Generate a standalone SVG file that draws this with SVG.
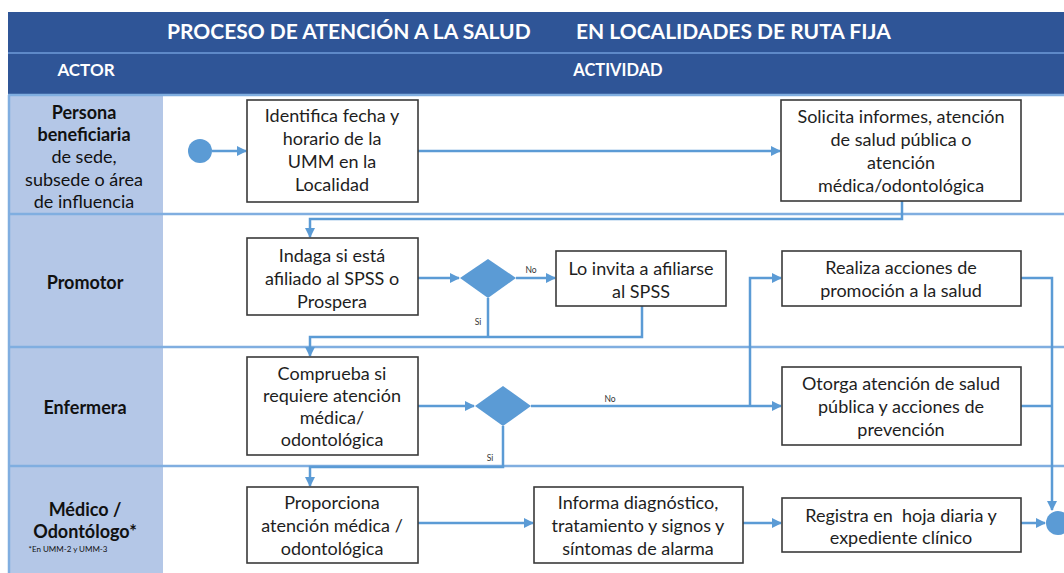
<svg xmlns="http://www.w3.org/2000/svg" width="1064" height="573" viewBox="0 0 1064 573">
<style>
.t{font-family:Lato,"Liberation Sans",sans-serif;font-size:18px;fill:#1e1e1e;text-anchor:middle}
.a{font-family:Lato,"Liberation Sans",sans-serif;font-size:18px;fill:#111;text-anchor:middle}
.s{font-family:Lato,"Liberation Sans",sans-serif;font-size:8px;fill:#111;text-anchor:middle}
.b{font-weight:bold}
.h{font-family:Lato,"Liberation Sans",sans-serif;font-weight:bold;fill:#fff}
.box{fill:#fff;stroke:#3a3a3a;stroke-width:1.6}
.c{fill:none;stroke:#5b9bd5;stroke-width:2.5}
.row{stroke:#80aee0;stroke-width:2.5}
.lbl{font-family:Lato,"Liberation Sans",sans-serif;font-size:8.5px;fill:#333;text-anchor:middle}
</style>
<defs>
<marker id="ar" viewBox="0 0 10 10" refX="9" refY="5" markerWidth="4" markerHeight="4" orient="auto" markerUnits="strokeWidth">
<path d="M0,0 L10,5 L0,10 z" fill="#5b9bd5"/>
</marker>
</defs>
<rect width="1064" height="573" fill="#fff"/>
<g id="header">
<rect x="8" y="12" width="1056" height="83" fill="#2f5597"/>
<line x1="8" y1="53" x2="1064" y2="53" stroke="#6f9bd8" stroke-width="1.5"/>
<text class="h" x="167" y="39" font-size="21">PROCESO DE ATENCIÓN A LA SALUD</text>
<text class="h" x="576" y="39" font-size="21">EN LOCALIDADES DE RUTA FIJA</text>
<text class="h" x="86" y="76" font-size="17" text-anchor="middle">ACTOR</text>
<text class="h" x="618" y="76" font-size="16.5" text-anchor="middle">ACTIVIDAD</text>
</g>
<g id="lanes">
<rect x="8" y="95" width="155" height="478" fill="#b4c7e7"/>
<line class="row" x1="9" y1="95" x2="9" y2="573"/>
<line class="row" x1="8" y1="95" x2="1064" y2="95"/>
<line class="row" x1="8" y1="214" x2="1064" y2="214"/>
<line class="row" x1="8" y1="347" x2="1064" y2="347"/>
<line class="row" x1="8" y1="466" x2="1064" y2="466"/>
</g>
<g id="actors">
<text class="a b" x="84" y="119">Persona</text>
<text class="a b" x="84" y="141">beneficiaria</text>
<text class="a" x="84" y="163">de sede,</text>
<text class="a" x="84" y="186">subsede o área</text>
<text class="a" x="84" y="208">de influencia</text>
<text class="a b" x="85" y="289">Promotor</text>
<text class="a b" x="85" y="414">Enfermera</text>
<text class="a b" x="85" y="516">Médico /</text>
<text class="a b" x="85" y="538">Odontólogo*</text>
<text class="s" x="68" y="552">*En UMM-2 y UMM-3</text>
</g>
<g id="connectors">
<line class="c" x1="212" y1="151" x2="246" y2="151" marker-end="url(#ar)"/>
<line class="c" x1="418" y1="151" x2="780" y2="151" marker-end="url(#ar)"/>
<polyline class="c" points="902,201 902,219 310,219 310,237" marker-end="url(#ar)"/>
<line class="c" x1="418" y1="278" x2="459" y2="278" marker-end="url(#ar)"/>
<line class="c" x1="516" y1="278" x2="555" y2="278" marker-end="url(#ar)"/>
<polyline class="c" points="642,306 642,337 310,337 310,356" marker-end="url(#ar)"/>
<line class="c" x1="488" y1="298" x2="488" y2="337"/>
<line class="c" x1="418" y1="406" x2="474" y2="406" marker-end="url(#ar)"/>
<line class="c" x1="531" y1="406" x2="781" y2="406" marker-end="url(#ar)"/>
<polyline class="c" points="750,406 750,278 781,278" marker-end="url(#ar)"/>
<polyline class="c" points="503,426 503,467 310,467 310,486" marker-end="url(#ar)"/>
<polyline class="c" points="1021,278 1052,278 1052,510" marker-end="url(#ar)"/>
<line class="c" x1="1021" y1="406" x2="1052" y2="406"/>
<line class="c" x1="418" y1="523" x2="533" y2="523" marker-end="url(#ar)"/>
<line class="c" x1="743" y1="523" x2="781" y2="523" marker-end="url(#ar)"/>
<line class="c" x1="1021" y1="523" x2="1045" y2="523" marker-end="url(#ar)"/>
<text class="lbl" x="531" y="273">No</text>
<text class="lbl" x="478" y="325">Si</text>
<text class="lbl" x="610" y="402">No</text>
<text class="lbl" x="490" y="461">Si</text>
</g>
<g id="start"><circle cx="200" cy="151" r="12" fill="#5b9bd5"/></g>
<g id="n1">
<rect class="box" x="247" y="100" width="171" height="102"/>
<text class="t" x="332" y="122">Identifica fecha y</text>
<text class="t" x="332" y="145">horario de la</text>
<text class="t" x="332" y="168">UMM en la</text>
<text class="t" x="332" y="191">Localidad</text>
</g>
<g id="n2">
<rect class="box" x="781" y="100" width="240" height="101"/>
<text class="t" x="901" y="123">Solicita informes, atención</text>
<text class="t" x="901" y="146">de salud pública o</text>
<text class="t" x="901" y="169">atención</text>
<text class="t" x="901" y="192">médica/odontológica</text>
</g>
<g id="n3">
<rect class="box" x="247" y="238" width="171" height="77"/>
<text class="t" x="332" y="262">Indaga si está</text>
<text class="t" x="332" y="285">afiliado al SPSS o</text>
<text class="t" x="332" y="308">Prospera</text>
</g>
<g id="d1"><polygon points="488,259 516,278 488,298 460,278" fill="#5b9bd5"/></g>
<g id="n4">
<rect class="box" x="556" y="251" width="170" height="55"/>
<text class="t" x="641" y="275">Lo invita a afiliarse</text>
<text class="t" x="641" y="298">al SPSS</text>
</g>
<g id="n5">
<rect class="box" x="782" y="251" width="239" height="55"/>
<text class="t" x="901" y="274">Realiza acciones de</text>
<text class="t" x="901" y="297">promoción a la salud</text>
</g>
<g id="n6">
<rect class="box" x="247" y="357" width="171" height="98"/>
<text class="t" x="332" y="380">Comprueba si</text>
<text class="t" x="332" y="402">requiere atención</text>
<text class="t" x="332" y="424">médica/</text>
<text class="t" x="332" y="446">odontológica</text>
</g>
<g id="d2"><polygon points="503,386 531,406 503,426 475,406" fill="#5b9bd5"/></g>
<g id="n7">
<rect class="box" x="782" y="367" width="239" height="78"/>
<text class="t" x="901" y="390">Otorga atención de salud</text>
<text class="t" x="901" y="413">pública y acciones de</text>
<text class="t" x="901" y="436">prevención</text>
</g>
<g id="n8">
<rect class="box" x="247" y="487" width="171" height="76"/>
<text class="t" x="332" y="509">Proporciona</text>
<text class="t" x="332" y="532">atención médica /</text>
<text class="t" x="332" y="555">odontológica</text>
</g>
<g id="n9">
<rect class="box" x="534" y="487" width="209" height="76"/>
<text class="t" x="638" y="509">Informa diagnóstico,</text>
<text class="t" x="638" y="532">tratamiento y signos y</text>
<text class="t" x="638" y="555">síntomas de alarma</text>
</g>
<g id="n10">
<rect class="box" x="782" y="498" width="239" height="54"/>
<text class="t" x="901" y="522" xml:space="preserve">Registra en  hoja diaria y</text>
<text class="t" x="901" y="544">expediente clínico</text>
</g>
<g id="end"><circle cx="1058" cy="523" r="12" fill="#5b9bd5"/></g>
</svg>
